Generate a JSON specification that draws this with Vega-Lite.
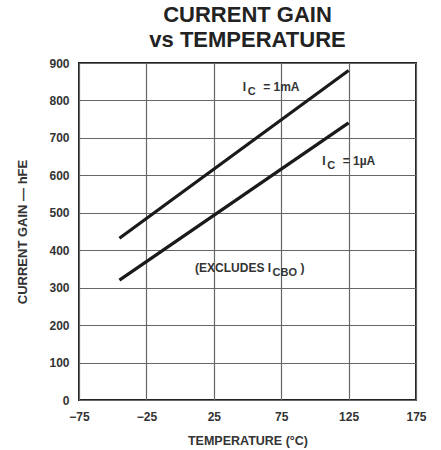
{
  "$schema": "https://vega.github.io/schema/vega-lite/v6.json",
  "autosize": {"type": "none"},
  "padding": {"left": 79, "top": 63, "right": 25, "bottom": 50},
  "width": 337,
  "height": 337,
  "background": "white",
  "title": {
    "text": ["CURRENT GAIN", "vs TEMPERATURE"],
    "font": "Liberation Sans",
    "fontSize": 22,
    "fontWeight": "bold",
    "color": "#222",
    "anchor": "middle",
    "frame": "group",
    "baseline": "alphabetic",
    "lineHeight": 25,
    "offset": -12
  },
  "datasets": {
    "curves": [
      {"temp": -45, "gain": 432, "series": "1mA"},
      {"temp": 125, "gain": 880, "series": "1mA"},
      {"temp": -45, "gain": 320, "series": "1uA"},
      {"temp": 125, "gain": 740, "series": "1uA"}
    ],
    "labels": [
      {"temp": 49, "gain": 826, "pre": "I", "sub": "C", "post": "= 1mA", "kind": "ic"},
      {"temp": 108, "gain": 628, "pre": "I", "sub": "C", "post": "= 1µA", "kind": "ic"},
      {"temp": 67.5, "gain": 343, "pre": "(EXCLUDES I", "sub": "CBO", "post": ")", "kind": "ex"}
    ]
  },
  "config": {
    "view": {"stroke": "#222", "strokeWidth": 2},
    "axis": {
      "domain": false,
      "ticks": false,
      "grid": true,
      "gridColor": "#666",
      "gridWidth": 1.2,
      "gridOpacity": 1,
      "labelFont": "Liberation Sans",
      "labelFontSize": 12,
      "labelFontWeight": "bold",
      "labelColor": "#333",
      "labelOverlap": false,
      "titleFont": "Liberation Sans",
      "titleFontWeight": "bold",
      "titleColor": "#333"
    }
  },
  "encoding": {
    "x": {
      "field": "temp",
      "type": "quantitative",
      "scale": {"domain": [-75, 175], "nice": false, "zero": false},
      "axis": {
        "values": [-75, -25, 25, 75, 125, 175],
        "title": "TEMPERATURE (°C)",
        "titleFontSize": 12.5,
        "labelPadding": 11,
        "titlePadding": 12,
        "labelFlush": false
      }
    },
    "y": {
      "field": "gain",
      "type": "quantitative",
      "scale": {"domain": [0, 900], "nice": false},
      "axis": {
        "values": [0, 100, 200, 300, 400, 500, 600, 700, 800, 900],
        "title": "CURRENT GAIN — hFE",
        "titleFontSize": 13,
        "labelPadding": 10,
        "titlePadding": 19,
        "labelFlush": false
      }
    }
  },
  "layer": [
    {
      "data": {"name": "curves"},
      "mark": {"type": "line", "color": "#1a1a1a", "strokeWidth": 3.2},
      "encoding": {
        "detail": {"field": "series"}
      }
    },
    {
      "data": {"name": "labels"},
      "mark": {"type": "text", "align": "right", "baseline": "alphabetic", "font": "Liberation Sans", "fontSize": 12, "fontWeight": "bold", "color": "#333"},
      "encoding": {
        "text": {"field": "pre"}
      }
    },
    {
      "data": {"name": "labels"},
      "mark": {"type": "text", "align": "left", "baseline": "alphabetic", "dx": 1.5, "dy": 4, "font": "Liberation Sans", "fontSize": 11, "fontWeight": "bold", "color": "#333"},
      "encoding": {
        "text": {"field": "sub"}
      }
    },
    {
      "data": {"name": "labels"},
      "transform": [{"filter": "datum.kind == 'ic'"}],
      "mark": {"type": "text", "align": "left", "baseline": "alphabetic", "dx": 17, "font": "Liberation Sans", "fontSize": 12, "fontWeight": "bold", "color": "#333"},
      "encoding": {
        "text": {"field": "post"}
      }
    },
    {
      "data": {"name": "labels"},
      "transform": [{"filter": "datum.kind == 'ex'"}],
      "mark": {"type": "text", "align": "left", "baseline": "alphabetic", "dx": 29.5, "font": "Liberation Sans", "fontSize": 12, "fontWeight": "bold", "color": "#333"},
      "encoding": {
        "text": {"field": "post"}
      }
    }
  ]
}
